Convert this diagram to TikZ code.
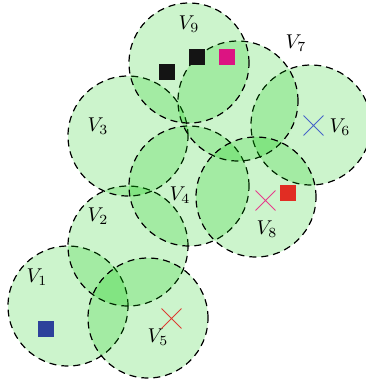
\documentclass[tikz,border=0pt]{standalone}
\usepackage{amsmath,amssymb}
\usepackage{xcolor}
\usepackage{tikz}
\usetikzlibrary{positioning, calc, shapes.misc}

\definecolor{cellgreen}{RGB}{0,200,0}
\definecolor{sqblack}{RGB}{20,20,20}
\definecolor{sqpink}{RGB}{220,20,130}
\definecolor{sqblue}{RGB}{45,65,155}
\definecolor{sqred}{RGB}{225,45,35}
\definecolor{xblue}{RGB}{70,100,200}
\definecolor{xpink}{RGB}{230,60,140}
\definecolor{xred}{RGB}{220,60,50}

\begin{document}
\begin{tikzpicture}[x=0.5pt, y=-0.5pt,
    cell/.style={circle, draw, dash pattern=on 3.5pt off 2.5pt, line width=0.6pt,
                 fill=cellgreen, fill opacity=0.2, draw opacity=1,
                 minimum size=60pt, inner sep=0pt},
    lbl/.style={inner sep=0pt},
    sq/.style={rectangle, minimum size=8pt, inner sep=0pt},
    xmark/.style={cross out, draw, line width=0.45pt, minimum size=9.5pt, inner sep=0pt}]
  \useasboundingbox (0,0) rectangle (365,381);
  % coverage discs
  \node[cell] (c1) at (68,306)  {};
  \node[cell] (c2) at (128,246) {};
  \node[cell] (c3) at (128,136) {};
  \node[cell] (c4) at (189,186) {};
  \node[cell] (c5) at (148,318) {};
  \node[cell] (c6) at (311,125) {};
  \node[cell] (c7) at (238,101) {};
  \node[cell] (c8) at (256,197) {};
  \node[cell] (c9) at (189,63)  {};
  % names
  \node[lbl] (l1) at (37,277)  {$V_1$};
  \node[lbl] (l2) at (98,216)  {$V_2$};
  \node[lbl] (l3) at (98,126)  {$V_3$};
  \node[lbl] (l4) at (180,195) {$V_4$};
  \node[lbl] (l5) at (158,337) {$V_5$};
  \node[lbl] (l6) at (340,127) {$V_6$};
  \node[lbl] (l7) at (296,43)  {$V_7$};
  \node[lbl] (l8) at (267,229) {$V_8$};
  \node[lbl] (l9) at (189,24)  {$V_9$};
  % squares and crosses
  \node[sq, fill=sqblack] (s1) at (167,72)  {};
  \node[sq, fill=sqblack] (s2) at (197,57)  {};
  \node[sq, fill=sqpink]  (s3) at (227,57)  {};
  \node[sq, fill=sqred]   (s4) at (288,193) {};
  \node[sq, fill=sqblue]  (s5) at (46,329)  {};
  \node[xmark, xblue] (x1) at (313.5,125.5) {};
  \node[xmark, xpink] (x2) at (265.5,200.5) {};
  \node[xmark, xred]  (x3) at (171.5,318.5) {};
\end{tikzpicture}
\end{document}
